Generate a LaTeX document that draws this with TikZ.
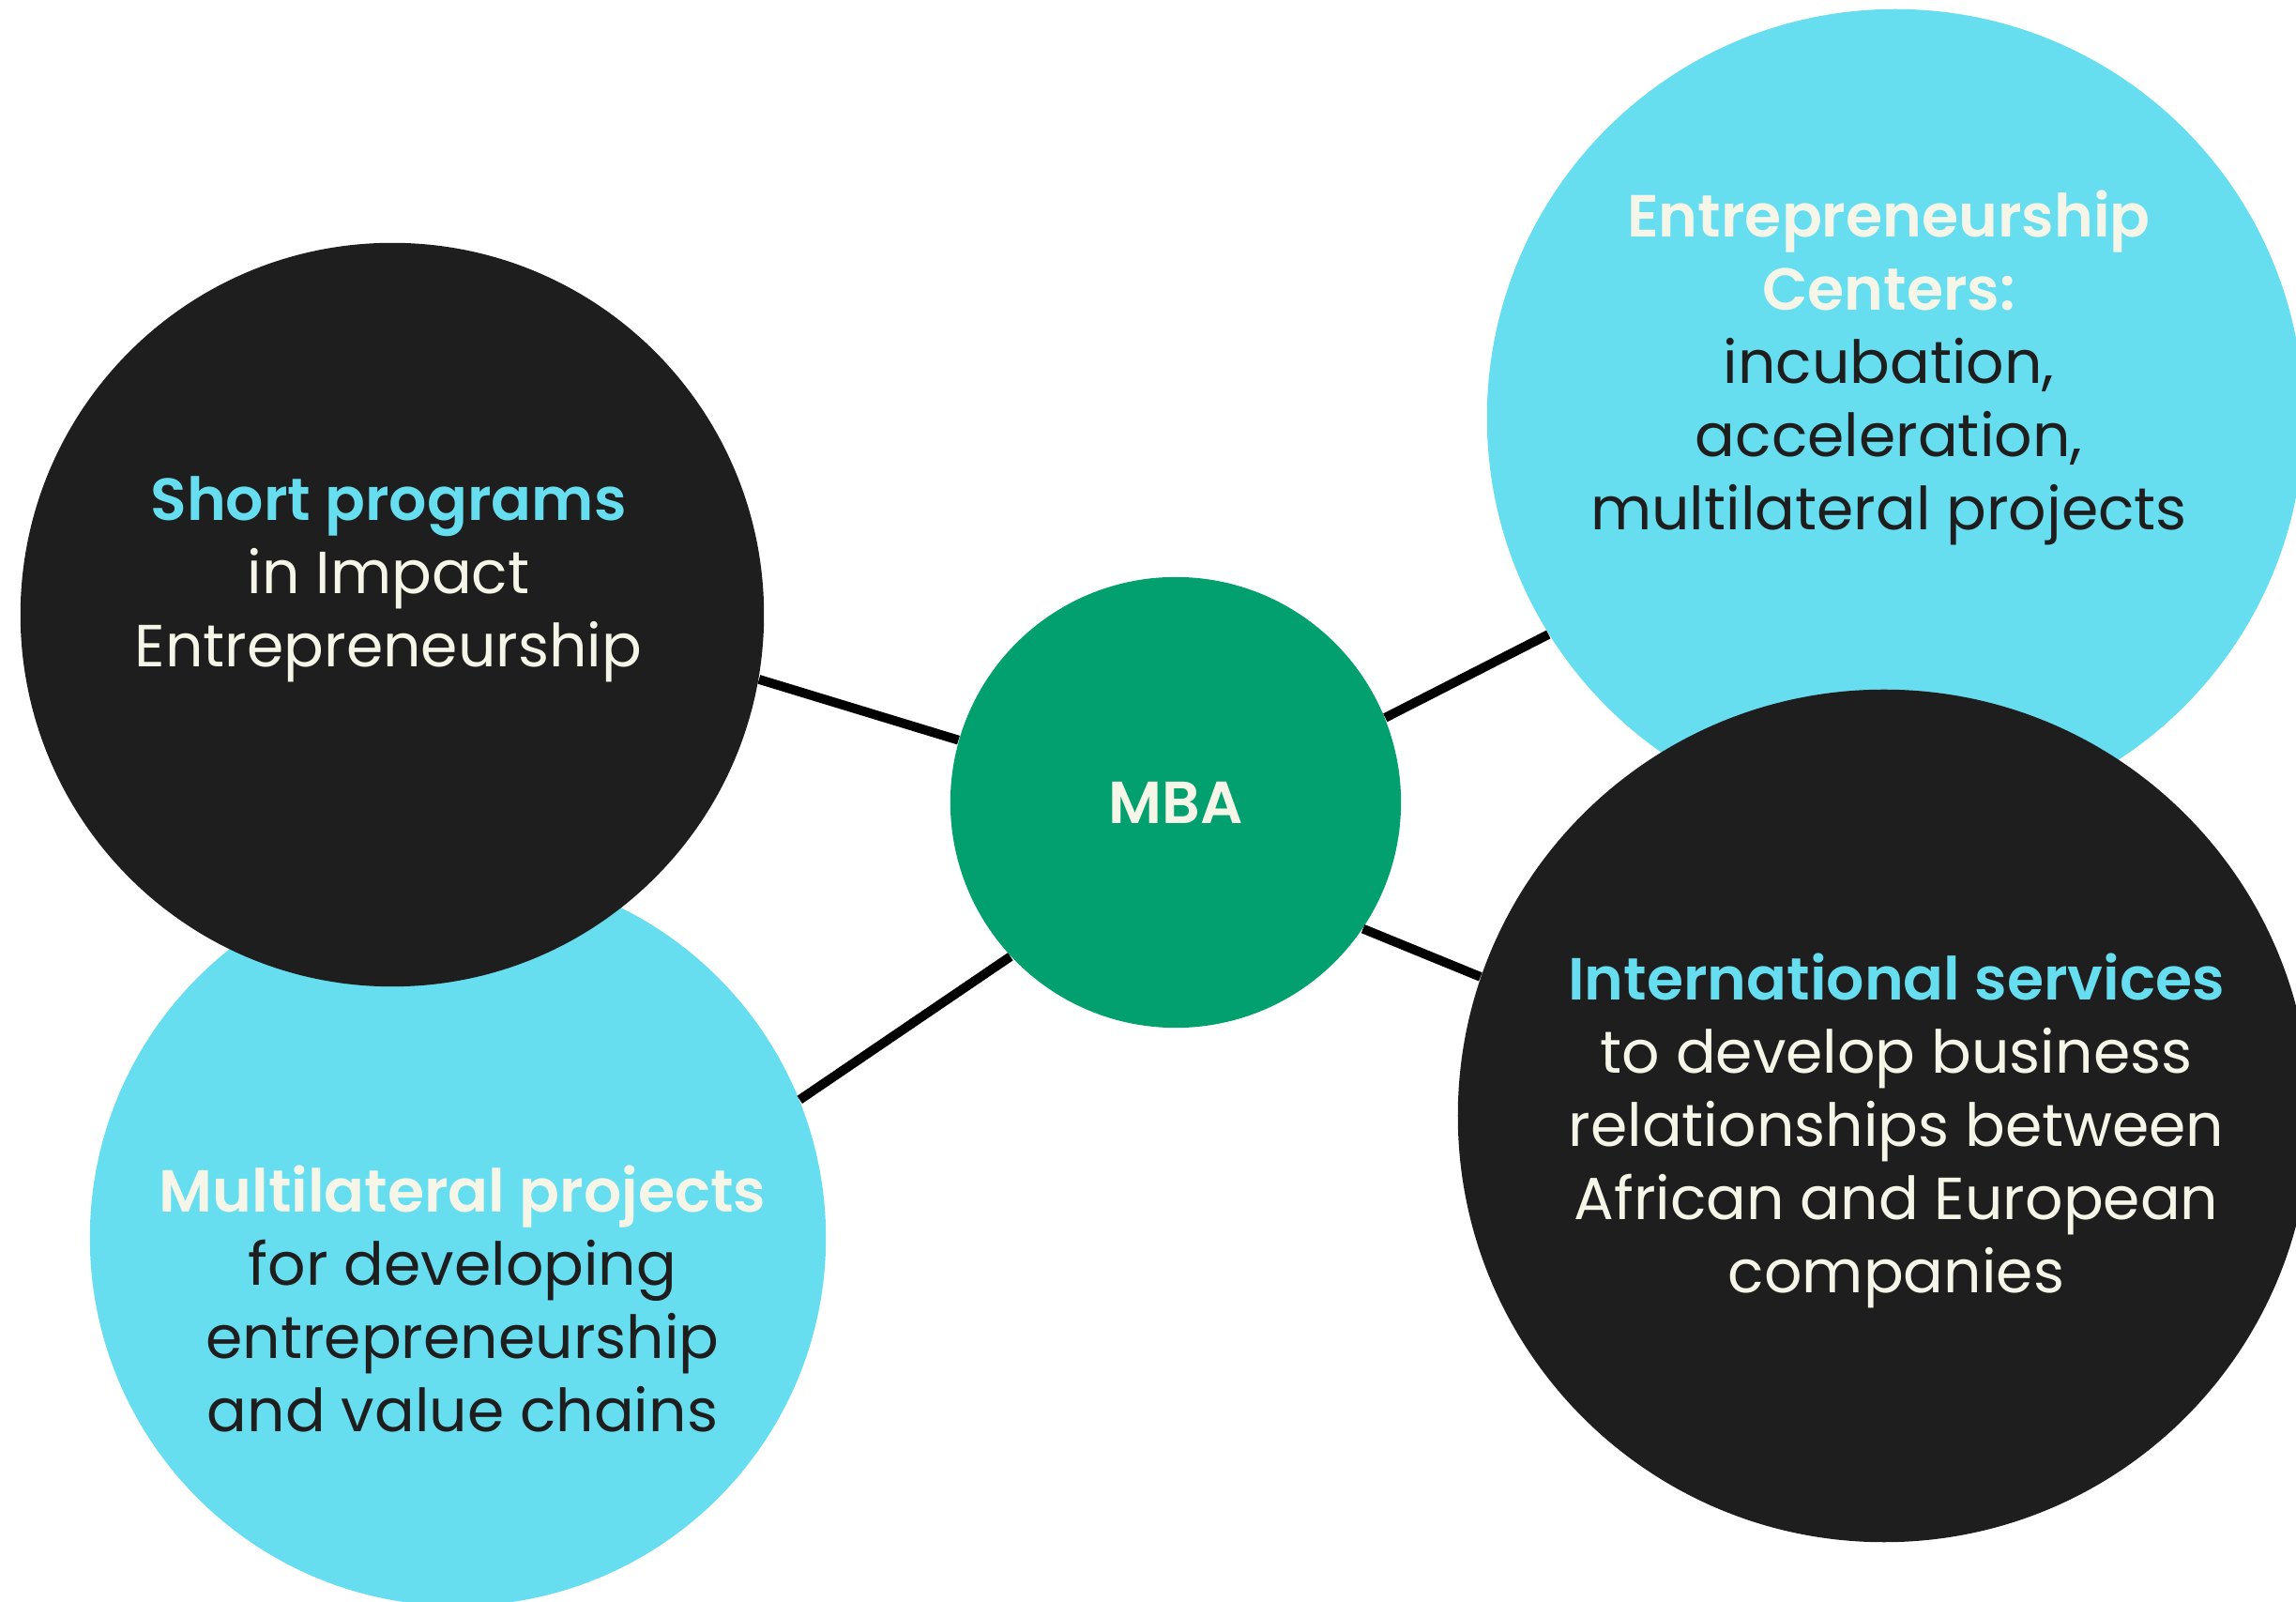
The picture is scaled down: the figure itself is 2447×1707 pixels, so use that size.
\documentclass[tikz,border=0pt]{standalone}
\usepackage{fontspec}
\setmainfont{Poppins}[BoldFont={Poppins SemiBold}]
\usetikzlibrary{positioning}
\definecolor{ink}{HTML}{1E1E1E}
\definecolor{sky}{HTML}{66DEF0}
\definecolor{leaf}{HTML}{02A06E}
\definecolor{cream}{HTML}{F6F6E8}

\begin{document}
\begin{tikzpicture}[x=0.01cm,y=-0.01cm,
    bubble/.style={circle, inner sep=0pt},
    label/.style={align=center, font=\fontsize{18}{22.2}\selectfont},
    link/.style={line width=2.8pt}]
        \useasboundingbox (0,0) rectangle (2447,1707);
        \clip (0,0) rectangle (2447,1707);

        \node[bubble, fill=sky, minimum size=7.84cm] (multi) at (488,1319) {};
        \node[bubble, fill=ink, minimum size=7.92cm] (short) at (418,655) {};
        \node[bubble, fill=sky, minimum size=8.7cm] (centers) at (2020,445) {};
        \node[bubble, fill=ink, minimum size=9.08cm] (intl) at (2008,1189) {};
        \node[bubble, fill=leaf, minimum size=4.8cm] (mba) at (1253,855) {};

        \node[label, text=cream] (shorttext) at (414,617)
            {\textcolor{sky}{\bfseries Short programs}\\in Impact\\Entrepreneurship};
        \node[label, text=ink] (multitext) at (493,1384)
            {\textcolor{cream}{\bfseries Multilateral projects}\\for developing\\entrepreneurship\\and value chains};
        \node[label, text=ink] (centerstext) at (2013,392)
            {\textcolor{cream}{\bfseries Entrepreneurship}\\\textcolor{cream}{\bfseries Centers:}\\incubation,\\acceleration,\\multilateral projects};
        \node[label, text=cream] (intltext) at (2021,1205)
            {\textcolor{sky}{\bfseries International services}\\to develop business\\relationships between\\African and European\\companies};
        \node[label, text=cream, font=\fontsize{18}{22}\bfseries] (mbatext) at (mba) {MBA};

        \draw[link] (short.-10) -- (mba.164);
        \draw[link] (multi.22) -- (mba.223);
        \draw[link] (mba.22) -- (centers.212);
        \draw[link] (mba.-34) -- (intl.161);
    \end{tikzpicture}
\end{document}
